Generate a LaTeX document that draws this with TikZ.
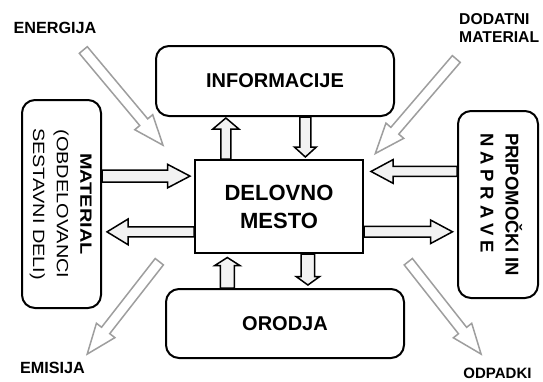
\documentclass[tikz,border=0pt]{standalone}
\usepackage{fontspec}
\usepackage{graphicx}
\setmainfont{Liberation Sans}
\usetikzlibrary{calc}

% Block arrow drawn as a closed outline between two points:
% #1 style, #2 tail, #3 tip, #4 half shaft width, #5 half head width, #6 head length
\newcommand\fatarrow[6]{%
  \coordinate (fa-base) at ($(#3)!#6!(#2)$);
  \path[#1] ($(#2)!#4!90:(#3)$) -- ($(fa-base)!#4!90:(#3)$)
    -- ($(fa-base)!#5!90:(#3)$) -- (#3)
    -- ($(fa-base)!#5!-90:(#3)$) -- ($(fa-base)!#4!-90:(#3)$)
    -- ($(#2)!#4!-90:(#3)$) -- cycle;}

\begin{document}
\begin{tikzpicture}[x=1pt,y=-1pt,
  box/.style={draw=black, line width=2pt, rounded corners=13pt, fill=white,
    inner sep=0pt, align=center},
  mainbox/.style={draw=black, line width=2pt, fill=white, inner sep=0pt,
    align=center, font=\fontsize{22}{28}\selectfont\bfseries},
  boxtext/.style={font=\fontsize{20}{24}\selectfont\bfseries},
  blockarrow/.style={draw=black, line width=1.5pt, fill=black!5, line join=miter},
  hollowarrow/.style={draw=black!38, line width=1.5pt, fill=white, line join=miter},
  lbl/.style={inner sep=0pt, font=\fontsize{16.2}{19}\selectfont\bfseries}
]
\useasboundingbox (0,0) rectangle (543,381);

% ---- boxes ----
\node[mainbox, minimum width=168pt, minimum height=93pt] (del) at (279,206.5)
  {DELOVNO\\MESTO};
\node[box, boxtext, minimum width=238pt, minimum height=70pt] (info) at (275,81)
  {INFORMACIJE};
\node[box, boxtext, minimum width=238pt, minimum height=69pt] (orodja) at (285,323.5)
  {ORODJA};
\node[box, minimum width=79pt, minimum height=208pt] (mat) at (61.5,204)
  {\rotatebox{-90}{\scalebox{1.22}[1]{\fontsize{16.3}{23.7}\selectfont
    \begin{tabular}{@{}c@{}}\bfseries MATERIAL\\(OBDELOVANCI\\SESTAVNI DELI)\end{tabular}}}};
\node[box, minimum width=80pt, minimum height=187pt] (prip) at (498,204.5)
  {\rotatebox{-90}{\fontsize{18.5}{25}\selectfont\bfseries
    \begin{tabular}{@{}l@{}}PRIPOMOČKI IN\\
    \makebox[120pt][s]{N\hfill A\hfill P\hfill R\hfill A\hfill V\hfill E}\end{tabular}}};

% ---- outer labels ----
\node[lbl] (energija) at (55,28) {ENERGIJA};
\node[lbl, anchor=west, align=left, font=\fontsize{15.7}{18.8}\selectfont\bfseries]
  (dodatni) at (459,28) {DODATNI\\MATERIAL};
\node[lbl] (emisija) at (52.5,367.5) {EMISIJA};
\node[lbl, font=\fontsize{15}{17}\selectfont\bfseries] (odpadki) at (497.5,373.5) {ODPADKI};

% ---- anchor points on the work place box ----
\coordinate (p1) at ($(del.north west)!0.1875!(del.north east)$);
\coordinate (p2) at ($(del.north west)!0.655!(del.north east)$);
\coordinate (p7) at ($(del.south west)!0.196!(del.south east)$);
\coordinate (p8) at ($(del.south west)!0.67!(del.south east)$);
\coordinate (p3) at ($(del.north west)!0.18!(del.south west)$);
\coordinate (p4) at ($(del.north west)!0.767!(del.south west)$);
\coordinate (p5) at ($(del.north east)!0.131!(del.south east)$);
\coordinate (p6) at ($(del.north east)!0.766!(del.south east)$);

% ---- block arrows between the boxes ----
\coordinate (a1) at ($(p1 |- info.south)+(0,1)$);
\fatarrow{blockarrow}{p1}{a1}{5pt}{13pt}{11pt}
\coordinate (a2s) at (p2 |- info.south);
\coordinate (a2) at ($(p2)+(0,-2)$);
\fatarrow{blockarrow}{a2s}{a2}{5.6pt}{11pt}{10pt}
\coordinate (a7s) at (p7 |- orodja.north);
\coordinate (a7) at ($(p7)+(0,3.5)$);
\fatarrow{blockarrow}{a7s}{a7}{7pt}{12.5pt}{8pt}
\coordinate (a8) at ($(p8 |- orodja.north)+(0,-3)$);
\fatarrow{blockarrow}{p8}{a8}{6.7pt}{11.8pt}{8.5pt}
\coordinate (a3s) at (mat.east |- p3);
\coordinate (a3) at ($(p3)+(-4,0)$);
\fatarrow{blockarrow}{a3s}{a3}{6pt}{11.8pt}{22.5pt}
\coordinate (a4) at ($(mat.east |- p4)+(5,0)$);
\fatarrow{blockarrow}{p4}{a4}{5pt}{12.8pt}{21pt}
\coordinate (a5s) at (prip.west |- p5);
\coordinate (a5) at ($(p5)+(7,0)$);
\fatarrow{blockarrow}{a5s}{a5}{5pt}{11.8pt}{22pt}
\coordinate (a6) at ($(prip.west |- p6)+(-4.5,0)$);
\fatarrow{blockarrow}{p6}{a6}{5.4pt}{11.8pt}{22pt}

% ---- hollow grey arrows (inputs and outputs) ----
\coordinate (energija-tail) at (83.3,50);
\coordinate (energija-tip) at (163,145.2);
\fatarrow{hollowarrow}{energija-tail}{energija-tip}{5.2pt}{11.7pt}{30pt}
\coordinate (dodatni-tail) at (456.3,59);
\coordinate (dodatni-tip) at (375.3,153.5);
\fatarrow{hollowarrow}{dodatni-tail}{dodatni-tip}{5.2pt}{11.7pt}{30pt}
\coordinate (emisija-tail) at (159.3,261.7);
\coordinate (emisija-tip) at (87.2,354.1);
\fatarrow{hollowarrow}{emisija-tail}{emisija-tip}{5.2pt}{11.7pt}{30pt}
\coordinate (odpadki-tail) at (408.3,261.7);
\coordinate (odpadki-tip) at (481.1,354.1);
\fatarrow{hollowarrow}{odpadki-tail}{odpadki-tip}{5.2pt}{11.7pt}{30pt}
\end{tikzpicture}
\end{document}
